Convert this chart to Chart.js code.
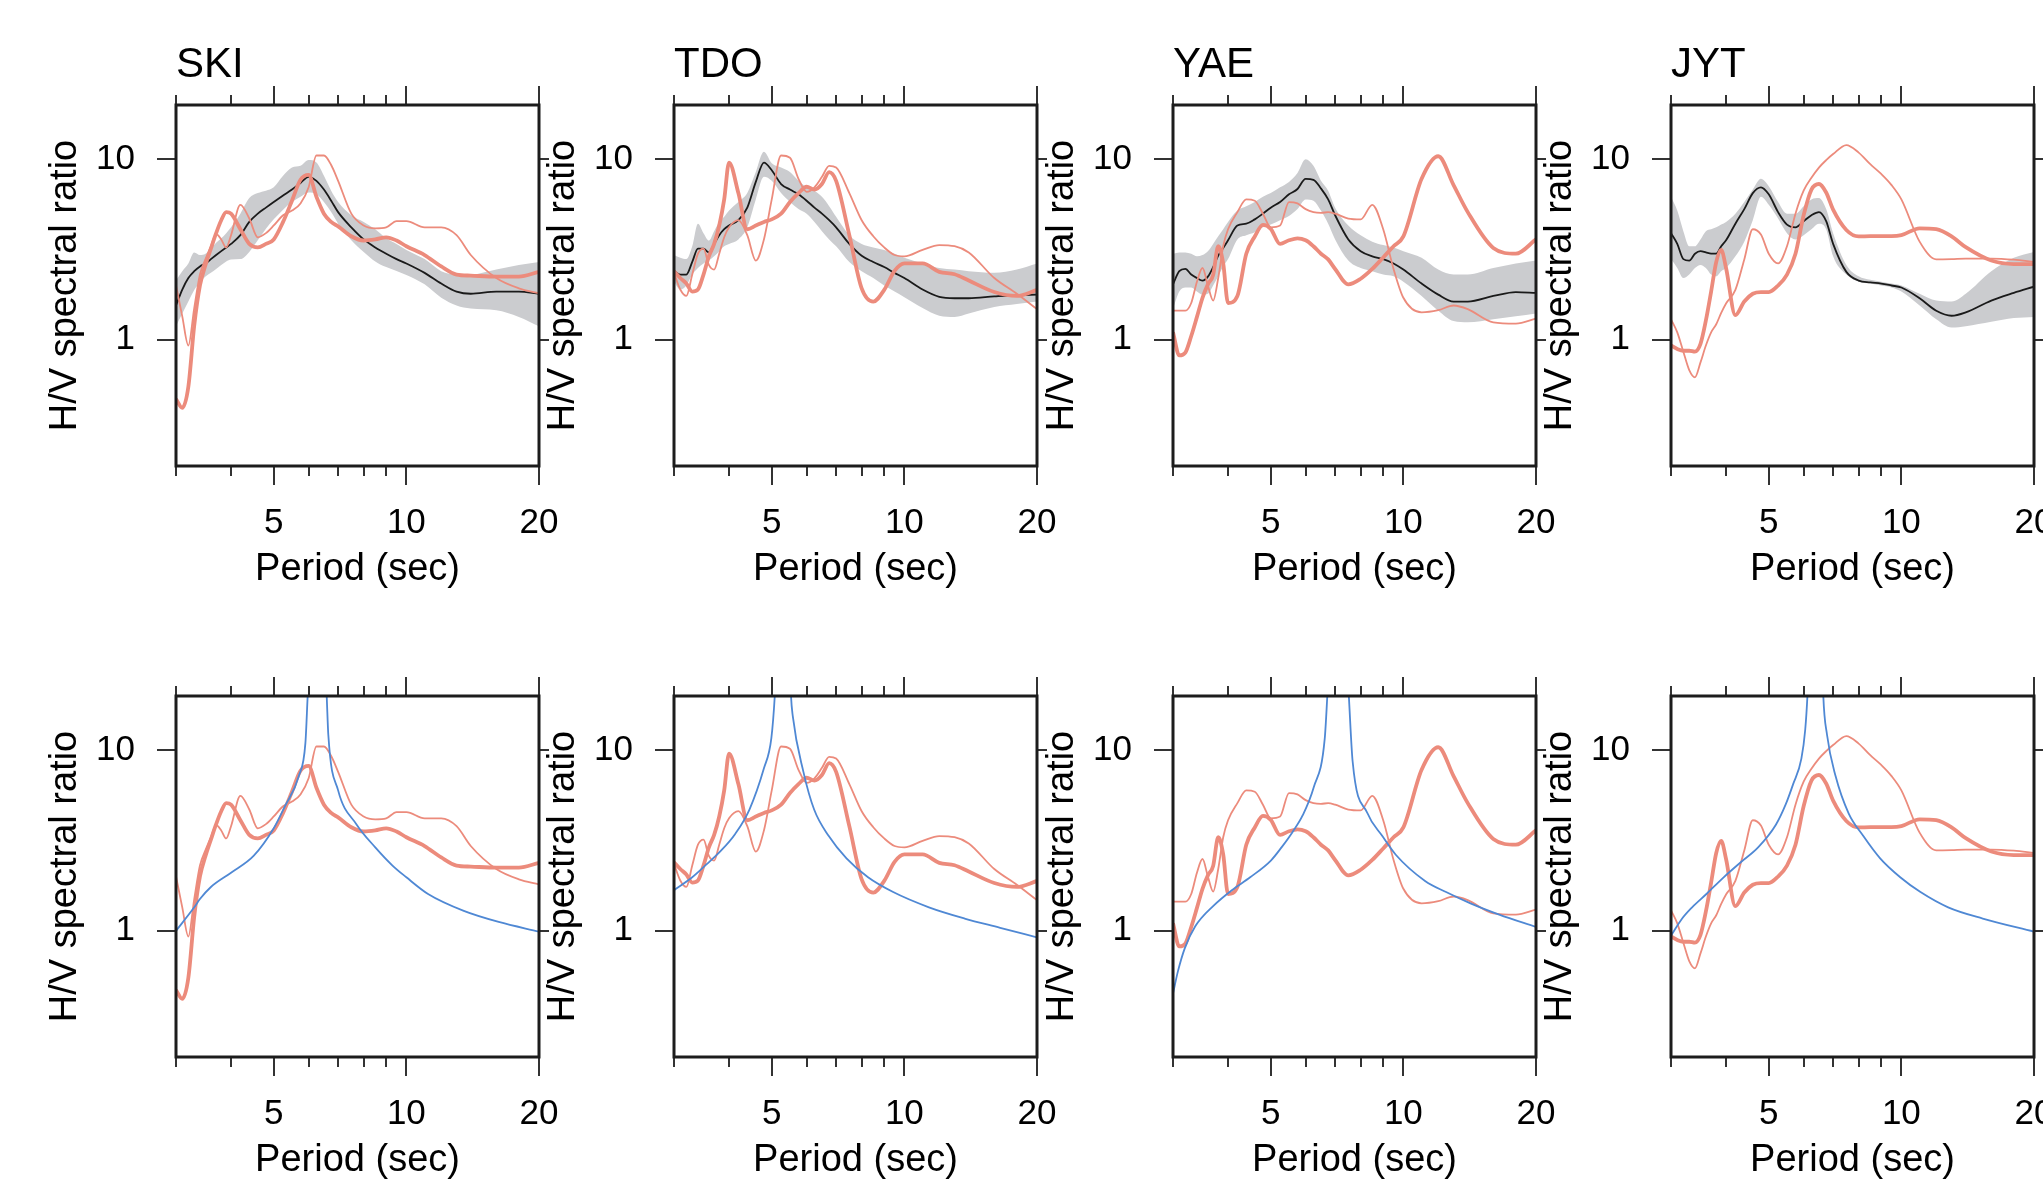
<!DOCTYPE html>
<html>
<head>
<meta charset="utf-8">
<script src="https://cdn.jsdelivr.net/npm/chart.js@4"></script>
<style>
  html, body { margin: 0; padding: 0; background: #fff; overflow: hidden; }
  #page { position: relative; width: 2043px; height: 1181px; overflow: hidden; background: #fff; }
  #page canvas { position: absolute; }
</style>
</head>
<body>
<div id="page"></div>
<script>
// period grid (sec) shared by the observed curves
const PERIOD = [3, 3.1, 3.2, 3.3, 3.4, 3.5, 3.6, 3.7, 3.8, 3.9, 4, 4.2, 4.4, 4.6, 4.8, 5, 5.25, 5.5, 5.75, 6,
                6.25, 6.5, 6.75, 7, 7.5, 8, 8.5, 9, 9.5, 10, 11, 12, 13, 14, 16, 18, 20];

const STATIONS = ['SKI', 'TDO', 'YAE', 'JYT'];
const X_TICKS = [3, 4, 5, 6, 7, 8, 9, 10, 20];
const X_LABELS = [5, 10, 20];
const Y_LABELS = [1, 10];

// SKI
const SKI_MED   = [1.55, 1.9, 2.2, 2.4, 2.55, 2.65, 2.8, 2.95, 3.1, 3.25, 3.4, 3.8, 4.5, 5.0, 5.4, 5.8, 6.3, 6.8, 7.4, 8.0, 7.6, 6.8, 5.9, 5.1, 4.2, 3.6, 3.25, 3.0, 2.8, 2.65, 2.35, 2.05, 1.85, 1.8, 1.85, 1.85, 1.8];
const SKI_UP    = [2.13, 2.4, 2.65, 3.05, 2.95, 3.0, 3.2, 3.45, 3.65, 3.9, 4.2, 5.0, 6.1, 6.5, 6.7, 7.0, 8.1, 9.0, 9.2, 9.9, 9.6, 8.1, 6.7, 5.8, 4.9, 4.5, 4.1, 3.65, 3.4, 3.15, 2.8, 2.4, 2.3, 2.3, 2.45, 2.6, 2.7];
const SKI_LO    = [1.19, 1.4, 1.63, 1.89, 2.08, 2.24, 2.35, 2.47, 2.6, 2.72, 2.79, 2.8, 3.07, 3.56, 4.12, 4.65, 5.26, 5.8, 6.2, 6.55, 6.4, 5.8, 5.1, 4.4, 3.56, 3.07, 2.72, 2.53, 2.41, 2.29, 2.03, 1.71, 1.55, 1.49, 1.46, 1.34, 1.19];
const SKI_THICK = [0.47, 0.42, 0.55, 1.2, 2.0, 2.6, 3.2, 3.9, 4.6, 5.1, 5.0, 4.1, 3.4, 3.25, 3.4, 3.6, 4.5, 5.9, 7.7, 8.2, 6.2, 5.0, 4.5, 4.25, 3.75, 3.55, 3.6, 3.7, 3.55, 3.3, 2.95, 2.55, 2.3, 2.27, 2.24, 2.24, 2.38];
const SKI_THIN  = [2.0, 1.35, 0.93, 1.5, 2.3, 2.8, 3.3, 3.85, 3.6, 3.25, 3.8, 5.6, 4.7, 3.7, 3.9, 4.3, 4.9, 5.2, 5.7, 7.0, 10.5, 10.5, 9.3, 7.6, 5.0, 4.3, 4.15, 4.2, 4.55, 4.55, 4.2, 4.2, 3.8, 2.95, 2.2, 1.93, 1.81];
const SKI_BLUE_T = [3, 3.3, 3.4, 3.6, 4, 4.5, 5, 5.3, 5.7, 5.9, 5.97, 6.02, 6.27, 6.55, 6.6, 6.65, 7, 7.7, 8.5, 9.3, 10, 11.2, 13.5, 16.2, 20];
const SKI_BLUE   = [1.0, 1.35, 1.5, 1.75, 2.1, 2.6, 3.7, 4.9, 7.2, 11, 20, 30, null, 30, 19, 12.2, 6.0, 3.9, 2.9, 2.3, 1.98, 1.6, 1.29, 1.12, 0.99];

// TDO
const TDO_MED   = [2.41, 2.3, 2.3, 2.7, 3.2, 3.2, 3.05, 3.4, 3.8, 4.1, 4.3, 4.6, 5.4, 7.5, 9.6, 8.7, 7.3, 6.8, 6.4, 5.9, 5.4, 5.0, 4.6, 4.2, 3.4, 2.92, 2.7, 2.53, 2.35, 2.2, 1.9, 1.73, 1.7, 1.7, 1.74, 1.77, 1.78];
const TDO_UP    = [2.95, 2.85, 2.8, 3.3, 4.4, 3.9, 3.55, 4.0, 4.5, 4.8, 5.2, 5.8, 6.5, 8.5, 11.0, 9.5, 9.0, 8.5, 7.6, 7.0, 6.7, 6.2, 5.5, 4.8, 3.8, 3.4, 3.25, 3.15, 3.0, 2.85, 2.65, 2.5, 2.45, 2.4, 2.35, 2.45, 2.65];
const TDO_LO    = [2.1, 1.9, 2.0, 2.3, 2.5, 2.65, 2.75, 2.9, 3.1, 3.3, 3.4, 3.6, 4.2, 6.0, 8.0, 7.6, 6.5, 5.8, 5.3, 5.0, 4.5, 4.0, 3.6, 3.3, 2.7, 2.4, 2.2, 2.0, 1.85, 1.72, 1.5, 1.36, 1.34, 1.4, 1.52, 1.58, 1.63];
const TDO_THICK = [2.4, 2.2, 2.05, 1.85, 1.9, 2.3, 2.9, 3.4, 4.3, 6.0, 9.6, 6.5, 4.1, 4.3, 4.5, 4.65, 5.0, 5.8, 6.5, 7.05, 6.8, 7.3, 8.5, 7.6, 3.8, 1.93, 1.63, 1.89, 2.41, 2.65, 2.65, 2.38, 2.31, 2.13, 1.84, 1.75, 1.89];
const TDO_THIN  = [2.35, 1.9, 1.75, 2.3, 3.0, 3.2, 2.6, 2.45, 3.0, 3.7, 4.2, 4.6, 3.8, 2.75, 3.6, 6.0, 10.5, 10.2, 7.8, 6.6, 7.0, 8.0, 9.2, 9.0, 6.5, 4.6, 3.75, 3.25, 2.95, 2.9, 3.15, 3.35, 3.3, 3.05, 2.2, 1.8, 1.48];
const TDO_BLUE_T = [3, 3.3, 3.56, 3.83, 4.13, 4.45, 4.8, 4.99, 5.08, 5.12, 5.3, 5.5, 5.53, 5.58, 5.9, 6.24, 6.73, 7.39, 8.27, 9.43, 11.37, 13.7, 16.5, 20];
const TDO_BLUE   = [1.68, 1.98, 2.34, 2.77, 3.44, 4.7, 7.95, 11.7, 20, 30, null, 30, 20, 15.5, 7.6, 4.7, 3.36, 2.52, 1.98, 1.64, 1.35, 1.17, 1.04, 0.92];

// YAE
const YAE_MED   = [2.03, 2.4, 2.47, 2.3, 2.2, 2.13, 2.24, 2.53, 2.93, 3.23, 3.56, 4.3, 4.4, 4.65, 5.0, 5.4, 5.8, 6.4, 6.85, 7.8, 7.7, 6.9, 6.0, 4.9, 3.6, 3.1, 2.9, 2.8, 2.65, 2.45, 2.05, 1.78, 1.63, 1.63, 1.75, 1.84, 1.82];
const YAE_UP    = [3.0, 3.05, 3.05, 3.0, 2.9, 2.95, 3.1, 3.4, 3.75, 4.1, 4.5, 5.2, 5.5, 5.8, 6.2, 6.5, 7.0, 7.5, 8.4, 10.0, 9.2, 7.6, 6.7, 5.4, 4.3, 3.8, 3.5, 3.35, 3.25, 3.1, 2.85, 2.45, 2.3, 2.3, 2.5, 2.65, 2.75];
const YAE_LO    = [1.48, 1.85, 1.95, 1.95, 1.85, 1.78, 1.8, 2.0, 2.25, 2.55, 2.8, 3.6, 3.8, 3.95, 4.2, 4.35, 4.6, 4.85, 5.3, 6.0, 5.9, 5.2, 4.4, 3.6, 2.75, 2.5, 2.4, 2.3, 2.25, 2.1, 1.75, 1.45, 1.27, 1.25, 1.3, 1.35, 1.4];
const YAE_THICK = [1.1, 0.82, 0.85, 1.05, 1.34, 1.71, 2.03, 2.29, 3.3, 2.65, 1.6, 1.75, 3.0, 3.74, 4.33, 4.12, 3.4, 3.56, 3.65, 3.56, 3.3, 3.0, 2.79, 2.47, 2.03, 2.18, 2.47, 2.86, 3.3, 3.74, 7.8, 10.4, 7.2, 5.1, 3.23, 3.0, 3.6];
const YAE_THIN  = [1.45, 1.45, 1.45, 1.6, 2.1, 2.5, 2.0, 1.65, 2.2, 3.3, 4.1, 5.1, 6.0, 5.9, 5.0, 4.2, 4.3, 5.8, 5.7, 5.3, 5.1, 5.05, 5.1, 5.0, 4.7, 4.65, 5.6, 4.1, 2.47, 1.71, 1.42, 1.46, 1.55, 1.48, 1.25, 1.23, 1.31];
const YAE_BLUE_T = [3, 3.08, 3.19, 3.37, 3.71, 4.08, 4.49, 5.01, 5.29, 5.6, 5.91, 6.26, 6.63, 6.72, 6.78, 7.1, 7.45, 7.52, 7.67, 8.29, 8.95, 9.61, 11.2, 12.5, 14.2, 16.5, 20];
const YAE_BLUE   = [0.45, 0.6, 0.8, 1.06, 1.38, 1.68, 1.98, 2.46, 2.9, 3.52, 4.37, 6.25, 11.6, 20, 30, null, 30, 20, 8.7, 4.48, 3.36, 2.64, 1.89, 1.64, 1.42, 1.23, 1.05];

// JYT
const JYT_MED   = [3.9, 3.4, 2.8, 2.75, 3.0, 3.1, 3.05, 3.0, 3.0, 3.3, 3.56, 4.4, 5.3, 6.5, 7.0, 6.4, 5.1, 4.35, 4.2, 4.54, 4.9, 5.1, 4.54, 3.4, 2.38, 2.13, 2.08, 2.05, 2.0, 1.95, 1.7, 1.45, 1.36, 1.42, 1.65, 1.82, 1.97];
const JYT_UP    = [6.2, 5.2, 4.0, 3.3, 3.3, 3.6, 4.0, 4.1, 4.2, 4.35, 4.5, 5.0, 5.8, 6.8, 7.8, 7.1, 5.8, 5.0, 5.0, 5.5, 6.0, 6.1, 5.3, 3.9, 2.6, 2.25, 2.15, 2.1, 2.05, 2.0, 1.8, 1.65, 1.63, 1.8, 2.4, 2.85, 3.07];
const JYT_LO    = [2.8, 2.5, 2.2, 2.3, 2.5, 2.6, 2.5, 2.3, 2.25, 2.4, 2.5, 2.9, 3.5, 4.6, 6.2, 5.6, 4.7, 3.9, 3.6, 3.8, 4.1, 4.4, 4.1, 2.9, 2.3, 2.1, 2.05, 2.0, 1.95, 1.85, 1.55, 1.3, 1.17, 1.19, 1.26, 1.32, 1.34];
const JYT_THICK = [0.93, 0.89, 0.87, 0.87, 0.86, 0.95, 1.28, 1.85, 2.7, 3.15, 2.5, 1.37, 1.63, 1.8, 1.84, 1.84, 2.0, 2.3, 3.0, 4.9, 6.8, 7.3, 6.55, 5.26, 4.06, 3.74, 3.75, 3.75, 3.75, 3.8, 4.15, 4.1, 3.74, 3.26, 2.75, 2.63, 2.63];
const JYT_THIN  = [1.3, 1.1, 0.86, 0.68, 0.62, 0.75, 0.93, 1.1, 1.22, 1.41, 1.59, 1.89, 2.79, 4.1, 3.83, 3.0, 2.65, 3.3, 5.0, 6.7, 7.9, 9.0, 9.9, 10.7, 12.0, 10.9, 9.4, 8.3, 7.2, 6.0, 3.5, 2.79, 2.8, 2.82, 2.82, 2.78, 2.7];
const JYT_BLUE_T = [3, 3.18, 3.35, 3.61, 3.95, 4.32, 4.73, 5.19, 5.46, 5.68, 5.93, 6.05, 6.12, 6.16, 6.4, 6.62, 6.65, 6.78, 7.09, 7.59, 8.19, 8.95, 9.94, 11.05, 12.77, 15.3, 20];
const JYT_BLUE   = [0.94, 1.17, 1.35, 1.6, 1.98, 2.4, 2.9, 3.87, 5.0, 6.5, 9.0, 13.0, 20, 30, null, 30, 20, 12.2, 7.2, 4.48, 3.36, 2.52, 1.98, 1.64, 1.35, 1.17, 0.99];

const panels = [
  { name: 'SKI', med: SKI_MED, up: SKI_UP, lo: SKI_LO, thick: SKI_THICK, thin: SKI_THIN, blueT: SKI_BLUE_T, blue: SKI_BLUE },
  { name: 'TDO', med: TDO_MED, up: TDO_UP, lo: TDO_LO, thick: TDO_THICK, thin: TDO_THIN, blueT: TDO_BLUE_T, blue: TDO_BLUE },
  { name: 'YAE', med: YAE_MED, up: YAE_UP, lo: YAE_LO, thick: YAE_THICK, thin: YAE_THIN, blueT: YAE_BLUE_T, blue: YAE_BLUE },
  { name: 'JYT', med: JYT_MED, up: JYT_UP, lo: JYT_LO, thick: JYT_THICK, thin: JYT_THIN, blueT: JYT_BLUE_T, blue: JYT_BLUE }
];

const SALMON = '#ec8b7c';
const BLUE = '#4f88d4';
const BLACK = '#1a1a1a';
const GRAY = '#cbcccf';
const FONT = "'Liberation Sans', Arial, Helvetica, sans-serif";

const COL_LEFT = [0, 498, 997, 1495];
const ROW_TOP = [0, 591];
// right side leaves room for the last x label plus its padding (Chart.js reserves it)
const CANVAS_W = 599, CANVAS_H = 606;

Chart.defaults.font.family = FONT;
Chart.defaults.color = '#000';

// box, tick marks and station name, drawn on top of the curves
const frame = {
  id: 'frame',
  afterDatasetsDraw(chart, args, opts) {
    const { ctx, chartArea: a, scales: { x, y } } = chart;
    ctx.save();
    ctx.strokeStyle = '#333';
    ctx.lineWidth = 2;
    ctx.beginPath();
    X_TICKS.forEach(v => {
      const px = Math.round(x.getPixelForValue(v));
      const len = X_LABELS.includes(v) ? 19 : 10;
      ctx.moveTo(px, a.bottom); ctx.lineTo(px, a.bottom + len);
      ctx.moveTo(px, a.top); ctx.lineTo(px, a.top - len);
    });
    Y_LABELS.forEach(v => {
      const py = Math.round(y.getPixelForValue(v));
      ctx.moveTo(a.left, py); ctx.lineTo(a.left - 19, py);
      ctx.moveTo(a.right, py); ctx.lineTo(a.right + 10, py);
    });
    ctx.stroke();
    ctx.strokeStyle = '#1c1c1c';
    ctx.lineWidth = 3;
    ctx.strokeRect(a.left, a.top, a.right - a.left, a.bottom - a.top);
    if (opts.title) {
      ctx.fillStyle = '#000';
      ctx.font = '42px ' + FONT;
      ctx.textAlign = 'left';
      ctx.textBaseline = 'alphabetic';
      ctx.fillText(opts.title, a.left, a.top - 28);
    }
    ctx.restore();
  }
};

function line(xs, ys, color, width) {
  return {
    data: xs.map((p, i) => ({ x: p, y: ys[i] })),
    borderColor: color,
    borderWidth: width,
    pointRadius: 0,
    fill: false,
    cubicInterpolationMode: 'monotone',
    clip: 0
  };
}

function band(ys, fillTo) {
  return {
    data: PERIOD.map((p, i) => ({ x: p, y: ys[i] })),
    borderColor: 'rgba(0,0,0,0)',
    borderWidth: 0,
    backgroundColor: GRAY,
    pointRadius: 0,
    fill: fillTo,
    cubicInterpolationMode: 'monotone',
    clip: 0
  };
}

function makeChart(left, top, datasets, title) {
  const c = document.createElement('canvas');
  c.width = CANVAS_W;
  c.height = CANVAS_H;
  c.style.left = left + 'px';
  c.style.top = top + 'px';
  document.getElementById('page').appendChild(c);

  return new Chart(c.getContext('2d'), {
    type: 'line',
    data: { datasets: datasets },
    options: {
      responsive: false,
      animation: false,
      devicePixelRatio: 1,
      events: [],
      layout: { padding: { top: 105, right: 60, left: 0, bottom: 0 } },
      plugins: {
        legend: { display: false },
        tooltip: { enabled: false },
        frame: { title: title }
      },
      scales: {
        x: {
          type: 'logarithmic',
          min: 3,
          max: 20,
          afterBuildTicks: s => { s.ticks = X_LABELS.map(v => ({ value: v })); },
          afterFit: s => { s.height = 140; },
          grid: { display: false, drawTicks: false },
          border: { display: false },
          ticks: {
            autoSkip: false, maxRotation: 0, minRotation: 0, padding: 36,
            font: { size: 35 }, color: '#000',
            callback: v => String(v)
          },
          title: {
            display: true, text: 'Period (sec)', color: '#000',
            font: { size: 38 }, padding: { top: 0, bottom: 14 }
          }
        },
        y: {
          type: 'logarithmic',
          min: 0.2,
          max: 20,
          afterBuildTicks: s => { s.ticks = Y_LABELS.map(v => ({ value: v })); },
          afterFit: s => { s.width = 176; },
          grid: { display: false, drawTicks: false },
          border: { display: false },
          ticks: {
            autoSkip: false, padding: 41,
            font: { size: 35 }, color: '#000',
            callback: v => String(v)
          },
          title: {
            display: true, text: 'H/V spectral ratio', color: '#000',
            font: { size: 38 }, padding: { top: 43, bottom: 0 }
          }
        }
      }
    },
    plugins: [frame]
  });
}

panels.forEach((p, col) => {
  // top row: observed curves over the median and its spread
  makeChart(COL_LEFT[col], ROW_TOP[0], [
    line(PERIOD, p.thin, SALMON, 1.8),
    line(PERIOD, p.thick, SALMON, 3.8),
    line(PERIOD, p.med, BLACK, 1.8),
    band(p.up, '+1'),
    band(p.lo, false)
  ], p.name);

  // bottom row: observed curves with the theoretical one
  makeChart(COL_LEFT[col], ROW_TOP[1], [
    line(p.blueT, p.blue, BLUE, 1.8),
    line(PERIOD, p.thin, SALMON, 1.8),
    line(PERIOD, p.thick, SALMON, 3.8)
  ], '');
});
</script>
</body>
</html>
